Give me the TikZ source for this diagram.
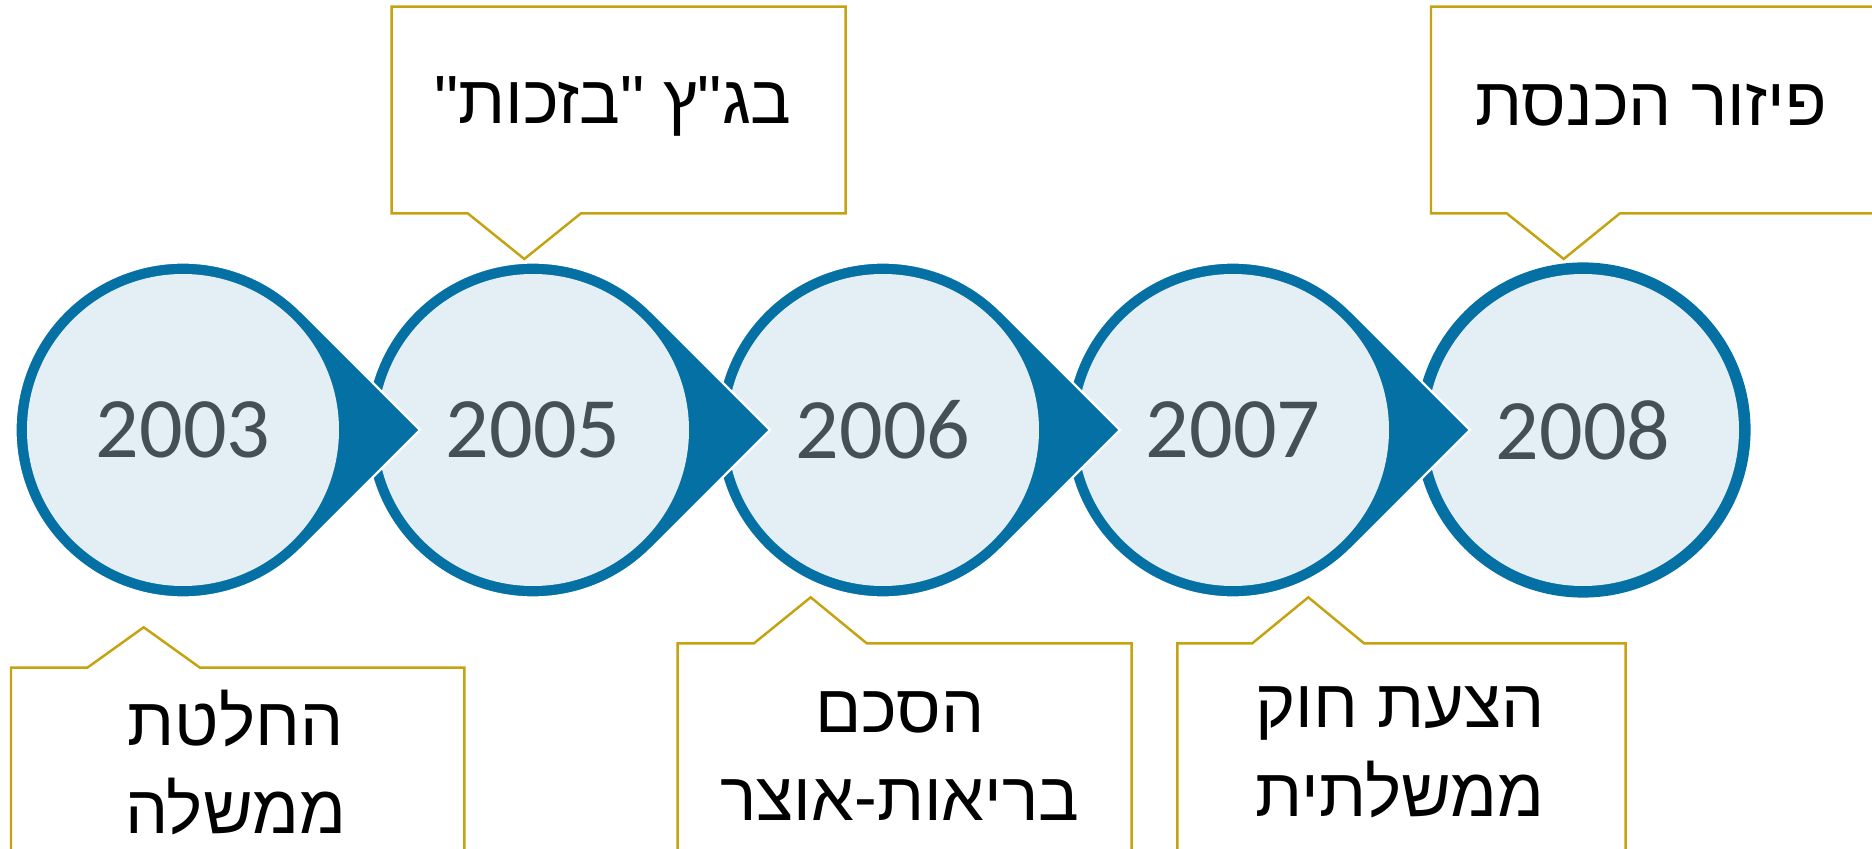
\documentclass[tikz,border=0pt]{standalone}
\usepackage{fontspec}
\setmainfont{Liberation Sans}
\newfontfamily\hebfont[Script=Hebrew]{Liberation Sans}
\newfontfamily\yearfont{Carlito}
\TeXXeTstate=1
\usetikzlibrary{calc}

\definecolor{timeblue}{RGB}{4,112,163}
\definecolor{circfill}{RGB}{227,239,245}
\definecolor{yeargray}{RGB}{68,79,88}
\definecolor{callgold}{RGB}{197,162,15}

\tikzset{
  yearcirc/.style={circle, fill=circfill, minimum size=3.12cm, inner sep=0pt, text=yeargray, font=\yearfont\fontsize{24.5}{29}\selectfont},
  droparrow/.style={fill=timeblue, draw=white, line width=0.7pt},
  calloutline/.style={draw=callgold, line width=0.7pt},
  callouttext/.style={font=\hebfont\fontsize{19.4}{25.1}\selectfont, align=center, anchor=base, inner sep=0pt},
}

\begin{document}
\begin{tikzpicture}
\useasboundingbox (0,0) rectangle (18.72,8.48);
\clip (0,0) rectangle (18.72,8.48);

% last year, no arrow
\fill[timeblue] (15.83,4.18) circle[radius=1.676];
\node (y2008) [yearcirc] at (15.83,4.18) {2008};

% circles with arrow tips, right to left so each tip lies on the next circle
\foreach \x/\yr in {12.33/2007, 8.83/2006, 5.33/2005, 1.83/2003} {
  \filldraw[droparrow] (\x+2.37,4.18) -- ++(135:1.676) arc[start angle=45, end angle=315, radius=1.676] -- cycle;
  \node (y\yr) [yearcirc] at (\x,4.18) {\yr};
}

% callouts above
\draw[calloutline] (3.917,8.413) -- (8.457,8.413) -- (8.457,6.347) -- (5.81,6.347) -- (5.243,5.89) -- (4.677,6.347) -- (3.917,6.347) -- cycle;
\node (t2005) [callouttext] at (6.13,7.24) {\beginR בג"ץ "בזכות"\endR};

\draw[calloutline] (14.31,8.413) -- (19,8.413) -- (19,6.347) -- (16.2,6.347) -- (15.637,5.89) -- (15.067,6.347) -- (14.31,6.347) -- cycle;
\node (t2008) [callouttext] at (16.51,7.22) {\beginR פיזור הכנסת\endR};

% callouts below (base is the last line)
\draw[calloutline] (0.11,-0.5) -- (0.11,1.803) -- (0.873,1.803) -- (1.437,2.207) -- (2.0,1.803) -- (4.643,1.803) -- (4.643,-0.5);
\node (t2003) [callouttext] at (2.355,0.14) {\beginR החלטת\endR\\\beginR ממשלה\endR};

\draw[calloutline] (6.777,-0.5) -- (6.777,2.047) -- (7.54,2.047) -- (8.107,2.507) -- (8.667,2.047) -- (11.317,2.047) -- (11.317,-0.5);
\node (t2006) [callouttext] at (9.0,0.27) {\beginR הסכם\endR\\\beginR בריאות-אוצר\endR};

\draw[calloutline] (11.773,-0.5) -- (11.773,2.047) -- (12.523,2.047) -- (13.083,2.507) -- (13.64,2.047) -- (16.257,2.047) -- (16.257,-0.5);
\node (t2007) [callouttext] at (14.0,0.32) {\beginR הצעת חוק\endR\\\beginR ממשלתית\endR};
\end{tikzpicture}
\end{document}
